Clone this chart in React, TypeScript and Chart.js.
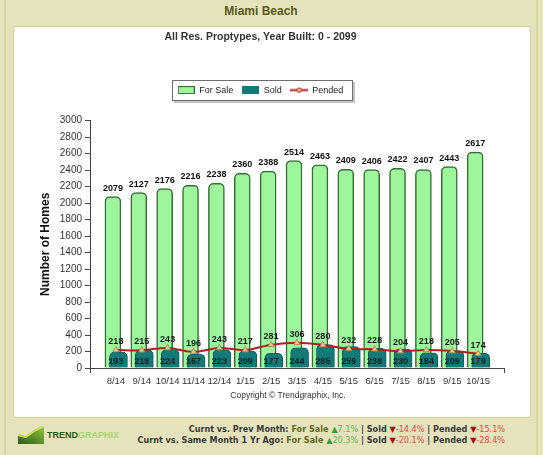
import React, { useEffect, useRef } from 'react';
import { Chart, registerables } from 'chart.js';

Chart.register(...registerables);

// ---- data ----
const MONTHS = ['8/14', '9/14', '10/14', '11/14', '12/14', '1/15', '2/15', '3/15', '4/15', '5/15', '6/15', '7/15', '8/15', '9/15', '10/15'];
const FOR_SALE = [2079, 2127, 2176, 2216, 2238, 2360, 2388, 2514, 2463, 2409, 2406, 2422, 2407, 2443, 2617];
const SOLD = [193, 218, 224, 167, 223, 209, 177, 244, 285, 259, 238, 230, 184, 209, 179];
const PENDED = [218, 215, 243, 196, 243, 217, 281, 306, 280, 232, 228, 204, 218, 205, 174];
const SERIES_NAMES = ['For Sale', 'Sold', 'Pended'];
const PREV_MONTH_CHANGE = ['7.1%', '-14.4%', '-15.1%'];
const YEAR_AGO_CHANGE = ['20.3%', '-20.1%', '-28.4%'];
const Y_MAX = 3000;
const Y_STEP = 200;

const TITLE = 'Miami Beach';
const SUBTITLE = 'All Res. Proptypes, Year Built: 0 - 2099';
const Y_TITLE = 'Number of Homes';
const COPYRIGHT = 'Copyright \u00A9 Trendgraphix, Inc.';

// ---- styles ----
const FONT = "'Liberation Sans', Arial, sans-serif";
const KHAKI = '#e4e3bb';
const FOR_SALE_FILL = '#9ef69c';
const FOR_SALE_EDGE = '#336d33';
const SOLD_FILL = '#137a78';
const SOLD_EDGE = '#0c5e5c';
const PENDED_LINE = '#b01e1e';
const PENDED_POINT = '#e8c898';
const AXIS = '#444444';
const FOR_SALE_SHIFT = -0.115; // category units
const SOLD_SHIFT = 0.1;
const LEGEND_GAP = 16;

function makeIcon(draw: (c: CanvasRenderingContext2D) => void, w: number, h: number) {
  const cv = document.createElement('canvas');
  cv.width = w;
  cv.height = h;
  const c = cv.getContext('2d') as CanvasRenderingContext2D;
  draw(c);
  return cv;
}

export default function App() {
  const ref = useRef<HTMLCanvasElement>(null);

  useEffect(() => {
    if (!ref.current) return;
    const icons = [
      makeIcon((c) => {
        c.fillStyle = FOR_SALE_FILL;
        c.fillRect(0, 0, 17, 8);
        c.strokeStyle = FOR_SALE_EDGE;
        c.lineWidth = 1;
        c.strokeRect(0.5, 0.5, 16, 7);
      }, 17, 8),
      makeIcon((c) => {
        c.fillStyle = SOLD_FILL;
        c.fillRect(0, 0, 17, 8);
      }, 17, 8),
      makeIcon((c) => {
        c.strokeStyle = PENDED_LINE;
        c.lineWidth = 2;
        c.beginPath();
        c.moveTo(0, 4.5);
        c.lineTo(18, 4.5);
        c.stroke();
        c.beginPath();
        c.arc(9, 4.5, 2.2, 0, Math.PI * 2);
        c.fillStyle = PENDED_POINT;
        c.fill();
        c.lineWidth = 1;
        c.stroke();
      }, 18, 9),
    ];

    const legendFrame = {
      id: 'legendFrame',
      beforeInit(chart: any) {
        const lg = chart.legend;
        if (!lg) return;
        const orig = lg.fit;
        lg.fit = function () {
          orig.call(this);
          this.height += LEGEND_GAP;
        };
      },
      beforeDraw(chart: any) {
        const boxes = chart.legend && chart.legend.legendHitBoxes;
        if (!boxes || !boxes.length) return;
        const left = Math.min(...boxes.map((b: any) => b.left)) - 6;
        const right = Math.max(...boxes.map((b: any) => b.left + b.width)) + 9;
        const top = Math.min(...boxes.map((b: any) => b.top)) - 6;
        const bottom = Math.max(...boxes.map((b: any) => b.top + b.height)) + 6;
        const c = chart.ctx;
        c.save();
        c.fillStyle = '#c4c4c4';
        c.fillRect(Math.round(left) + 2, Math.round(top) + 2, Math.round(right - left), Math.round(bottom - top));
        c.fillStyle = '#ffffff';
        c.fillRect(Math.round(left), Math.round(top), Math.round(right - left), Math.round(bottom - top));
        c.strokeStyle = '#6e6e6e';
        c.lineWidth = 1;
        c.strokeRect(Math.round(left) + 0.5, Math.round(top) + 0.5, Math.round(right - left) - 1, Math.round(bottom - top) - 1);
        c.restore();
      },
    };

    const valueLabels = {
      id: 'valueLabels',
      afterDatasetsDraw(chart: any) {
        const c = chart.ctx;
        const xs = chart.scales.x;
        const ys = chart.scales.y;
        c.save();
        c.font = `bold 9px ${FONT}`;
        c.textAlign = 'center';
        c.textBaseline = 'bottom';
        c.fillStyle = '#111111';
        chart.getDatasetMeta(0).data.forEach((el: any, i: number) => {
          c.fillText(String(FOR_SALE[i]), el.x, el.y - 4);
        });
        c.fillStyle = '#1a1a1a';
        chart.getDatasetMeta(2).data.forEach((el: any, i: number) => {
          c.fillText(String(PENDED[i]), el.x, el.y - 4);
        });
        c.textBaseline = 'middle';
        c.fillStyle = '#0a1f1f';
        SOLD.forEach((v, i) => {
          c.fillText(String(v), xs.getPixelForValue(i), ys.getPixelForValue(0) - 6);
        });
        c.restore();
      },
    };

    Chart.defaults.font.family = FONT;
    const xMin = -1;
    const xMax = MONTHS.length;

    const chart = new Chart(ref.current, {
      type: 'bar',
      data: {
        datasets: [
          {
            type: 'bar',
            label: SERIES_NAMES[0],
            data: FOR_SALE.map((v, i) => ({ x: i + FOR_SALE_SHIFT, y: v })),
            backgroundColor: FOR_SALE_FILL,
            borderColor: FOR_SALE_EDGE,
            borderWidth: 1.5,
            borderRadius: { topLeft: 5, topRight: 5, bottomLeft: 0, bottomRight: 0 },
            borderSkipped: 'bottom',
            barThickness: 16,
            grouped: false,
            order: 2,
          } as any,
          {
            type: 'bar',
            label: SERIES_NAMES[1],
            data: SOLD.map((v, i) => ({ x: i + SOLD_SHIFT, y: v })),
            backgroundColor: SOLD_FILL,
            borderColor: SOLD_EDGE,
            borderWidth: 1,
            borderRadius: { topLeft: 5, topRight: 5, bottomLeft: 0, bottomRight: 0 },
            borderSkipped: 'bottom',
            barThickness: 18,
            grouped: false,
            order: 1,
          } as any,
          {
            type: 'line',
            label: SERIES_NAMES[2],
            data: PENDED.map((v, i) => ({ x: i, y: v })),
            borderColor: PENDED_LINE,
            borderWidth: 2,
            tension: 0.35,
            pointStyle: 'triangle',
            pointRadius: 3.5,
            pointBackgroundColor: PENDED_POINT,
            pointBorderColor: '#b38a52',
            pointBorderWidth: 1,
            order: 0,
          } as any,
        ],
      },
      options: {
        animation: false,
        responsive: true,
        maintainAspectRatio: false,
        events: [],
        layout: { padding: { top: 0, left: 0, right: 1, bottom: 14 } },
        plugins: {
          tooltip: { enabled: false },
          title: {
            display: true,
            text: SUBTITLE,
            color: '#333333',
            font: { size: 10.5, weight: 'bold', family: FONT },
            padding: { top: 4, bottom: 33 },
          },
          legend: {
            display: true,
            position: 'top',
            labels: {
              usePointStyle: true,
              pointStyleWidth: 17,
              boxHeight: 9,
              padding: 9,
              color: '#222222',
              font: { size: 9, family: FONT },
              sort: (a: any, b: any) => a.datasetIndex - b.datasetIndex,
              generateLabels: (ch: any) => {
                const items = (Chart.defaults.plugins.legend.labels as any).generateLabels(ch);
                return items.map((it: any) => ({ ...it, pointStyle: icons[it.datasetIndex] }));
              },
            },
          },
        },
        scales: {
          x: {
            type: 'linear',
            min: xMin,
            max: xMax,
            offset: false,
            afterFit: (s: any) => {
              s.height = 25;
            },
            grid: {
              display: true,
              offset: false,
              drawOnChartArea: false,
              drawTicks: true,
              tickLength: 5,
              color: (c: any) => (c.tick && (c.tick.value === xMin || c.tick.value === xMax) ? AXIS : 'rgba(0,0,0,0)'),
            },
            border: { display: true, color: AXIS, width: 1 },
            ticks: {
              stepSize: 1,
              autoSkip: false,
              maxRotation: 0,
              minRotation: 0,
              padding: 3,
              color: '#333333',
              font: { size: 9.5, family: FONT },
              callback: (v: any) => (MONTHS[v as number] !== undefined ? MONTHS[v as number] : ''),
            },
          },
          y: {
            type: 'linear',
            min: 0,
            max: Y_MAX,
            afterFit: (s: any) => {
              s.width = 77;
            },
            grid: {
              display: true,
              drawOnChartArea: false,
              drawTicks: true,
              tickLength: 5,
              color: AXIS,
            },
            border: { display: true, color: AXIS, width: 1 },
            ticks: {
              stepSize: Y_STEP,
              padding: 3,
              color: '#333333',
              font: { size: 10, family: FONT },
              callback: (v: any) => String(v),
            },
            title: {
              display: true,
              text: Y_TITLE,
              color: '#111111',
              font: { size: 12, weight: 'bold', family: FONT },
              padding: { top: 25, bottom: 0 },
            },
          },
        },
      } as any,
      plugins: [legendFrame, valueLabels],
    });
    return () => chart.destroy();
  }, []);

  const olive = '#5e6a1f';
  const up = '#3f9f3f';
  const upText = '#61b861';
  const down = '#a30f0f';
  const downText = '#e04a4a';
  const dark = '#3a3a3a';
  const changeLine = (label: string, vals: string[]) => (
    <div>
      <b style={{ color: dark }}>{label} </b>
      <b style={{ color: olive }}>{SERIES_NAMES[0]} </b>
      <span style={{ color: up }}>{'\u25B2'}</span>
      <span style={{ color: upText }}>{vals[0]}</span>
      <b style={{ color: dark }}> | {SERIES_NAMES[1]} </b>
      <span style={{ color: down }}>{'\u25BC'}</span>
      <span style={{ color: downText }}>{vals[1]}</span>
      <b style={{ color: dark }}> | {SERIES_NAMES[2]} </b>
      <span style={{ color: down }}>{'\u25BC'}</span>
      <span style={{ color: downText }}>{vals[2]}</span>
    </div>
  );

  return (
    <div style={{ position: 'absolute', left: 0, top: 0, width: 543, height: 455, background: KHAKI, overflow: 'hidden', fontFamily: FONT }}>
      <div style={{ position: 'absolute', left: 4, top: 0, width: 2, height: 455, background: '#d8d6a4' }} />
      <div style={{ position: 'absolute', left: 536, top: 0, width: 2, height: 455, background: '#d8d6a4' }} />
      <div style={{ position: 'absolute', left: 0, top: 4, width: 522, textAlign: 'center', fontSize: 12, fontWeight: 'bold', color: '#5a591d' }}>{TITLE}</div>
      <div style={{ position: 'absolute', left: 13, top: 26, width: 516, height: 390, background: '#ffffff', border: '1px solid #d2d0a2' }} />
      <div style={{ position: 'absolute', left: 13, top: 27, width: 496, height: 380 }}>
        <canvas ref={ref} />
      </div>
      <div style={{ position: 'absolute', left: 188, top: 390, width: 200, textAlign: 'center', fontSize: 8.5, color: '#333333' }}>{COPYRIGHT}</div>
      <svg width="26" height="18" style={{ position: 'absolute', left: 18, top: 426 }}>
        <defs>
          <linearGradient id="tgx" x1="0" y1="1" x2="1" y2="0">
            <stop offset="0" stopColor="#2c5a18" />
            <stop offset="1" stopColor="#8cc63f" />
          </linearGradient>
        </defs>
        <polygon points="0,18 0,10 8,12 16,6 26,1 26,18" fill="url(#tgx)" />
        <polyline points="0,9 8,11 16,5 25,0" stroke="#c9d94c" strokeWidth="2" fill="none" />
      </svg>
      <div style={{ position: 'absolute', left: 47, top: 430, fontSize: 9, fontWeight: 'bold', letterSpacing: 0 }}>
        <span style={{ color: '#2e5a1c' }}>TREND</span>
        <span style={{ color: '#a7d46e' }}>GRAPHIX</span>
      </div>
      <div style={{ position: 'absolute', right: 38, top: 424, textAlign: 'right', fontFamily: "'DejaVu Sans', Verdana, sans-serif", fontSize: 8.1, lineHeight: '11px', whiteSpace: 'nowrap' }}>
        {changeLine('Curnt vs. Prev Month:', PREV_MONTH_CHANGE)}
        {changeLine('Curnt vs. Same Month 1 Yr Ago:', YEAR_AGO_CHANGE)}
      </div>
    </div>
  );
}
